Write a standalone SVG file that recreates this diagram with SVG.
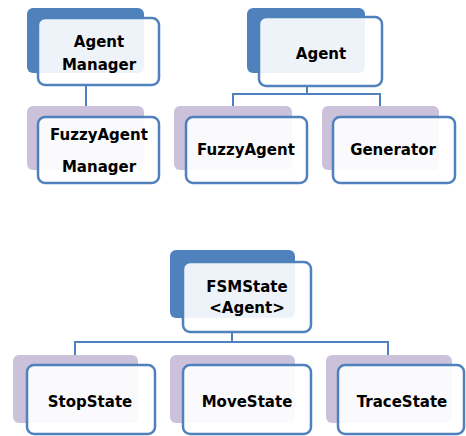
<svg xmlns="http://www.w3.org/2000/svg" width="466" height="436" viewBox="0 0 466 436">
<style>
.bd{fill:#4F81BD}
.bp{fill:#CCC1DA}
.fr{fill:#ffffff;fill-opacity:0.9;stroke:#4F81BD;stroke-width:2.5}
.t{font-family:"DejaVu Sans",sans-serif;font-weight:bold;font-size:15px;fill:#000;text-anchor:middle}
.c{fill:none;stroke:#4F81BD;stroke-width:2}
</style>
<rect width="466" height="436" fill="#fff"/>
<g id="connectors">
<path class="c" d="M86 85 V117"/>
<path class="c" d="M307 86 V94 M233 106 V94 H380 V106"/>
<path class="c" d="M232 332 V342 M75 355 V342 H388 V355"/>
</g>
<g id="agent-manager">
<rect class="bd" x="27" y="8" width="117" height="65" rx="6"/>
<rect class="fr" x="38" y="18" width="121" height="67" rx="7"/>
<text class="t" x="99" y="47">Agent</text>
<text class="t" x="99" y="70">Manager</text>
</g>
<g id="fuzzyagent-manager">
<rect class="bp" x="27" y="106" width="117" height="64" rx="6"/>
<rect class="fr" x="38" y="117" width="121" height="66" rx="7"/>
<text class="t" x="99" y="140">FuzzyAgent</text>
<text class="t" x="99" y="172">Manager</text>
</g>
<g id="agent">
<rect class="bd" x="247" y="8" width="118" height="65" rx="6"/>
<rect class="fr" x="259" y="17" width="123" height="69" rx="7"/>
<text class="t" x="321" y="59">Agent</text>
</g>
<g id="fuzzyagent">
<rect class="bp" x="174" y="106" width="118" height="64" rx="6"/>
<rect class="fr" x="186" y="117" width="121" height="66" rx="7"/>
<text class="t" x="246" y="155">FuzzyAgent</text>
</g>
<g id="generator">
<rect class="bp" x="322" y="106" width="117" height="64" rx="6"/>
<rect class="fr" x="333" y="117" width="122" height="66" rx="7"/>
<text class="t" x="393" y="155">Generator</text>
</g>
<g id="fsmstate">
<rect class="bd" x="170" y="250" width="125" height="68" rx="6"/>
<rect class="fr" x="183" y="262" width="128" height="70" rx="7"/>
<text class="t" x="247" y="292">FSMState</text>
<text class="t" x="247" y="313">&lt;Agent&gt;</text>
</g>
<g id="stopstate">
<rect class="bp" x="13" y="355" width="125" height="68" rx="6"/>
<rect class="fr" x="27" y="365" width="128" height="69" rx="7"/>
<text class="t" x="90" y="407">StopState</text>
</g>
<g id="movestate">
<rect class="bp" x="170" y="355" width="125" height="68" rx="6"/>
<rect class="fr" x="183" y="365" width="128" height="69" rx="7"/>
<text class="t" x="247" y="407">MoveState</text>
</g>
<g id="tracestate">
<rect class="bp" x="326" y="355" width="126" height="68" rx="6"/>
<rect class="fr" x="338" y="365" width="126" height="69" rx="7"/>
<text class="t" x="402" y="407">TraceState</text>
</g>
</svg>
